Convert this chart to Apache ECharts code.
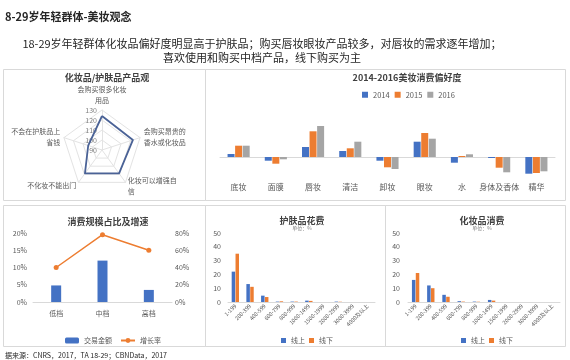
<!DOCTYPE html>
<html><head><meta charset="utf-8">
<script src="https://cdn.jsdelivr.net/npm/echarts@6/dist/echarts.min.js"></script>
<style>html,body{margin:0;padding:0;background:#fff}#c{width:570px;height:360px}</style>
</head><body><div id="c"></div>
<script>
// radar axes listed counter-clockwise from the top (ECharts order)
const radarNames = ['会购买很多化妆\n用品','不会在护肤品上\n省钱','不化妆不能出门','化妆可以增强自\n信','会购买昂贵的\n香水或化妆品'];
const radarValues = [124, 104.5, 119, 119, 122.5];
const prefYears = ['2014','2015','2016'];
const prefCategories = ['底妆','面膜','唇妆','清洁','卸妆','眼妆','水','身体及香体','精华'];
const pref2014 = [3, -3.7, 10, 6, -3.7, 15.3, -5.7, -1, -16.7];
const pref2015 = [11.3, -6.7, 25.7, 8.7, -10.3, 24, 1, -10.7, -16];
const pref2016 = [11.3, -2.3, 31, 15.3, -12, 18.3, 2.7, -15.3, -14.3];
const tierCategories = ['低档','中档','高档'];
const tierShare = [4.8, 12, 3.5];
const tierGrowth = [40, 78, 60];
const priceCategories = ['1-199','200-399','400-599','600-799','800-999','1000-1499','1500-1999','2000-2999','3000-3999','4000及以上'];
const skinOnline = [22, 13, 4.6, 0.3, 0.3, 1, 0, 0.3, 0, 0];
const skinOffline = [35, 11, 3.6, 0.5, 0.3, 0.8, 0, 0.2, 0, 0];
const makeupOnline = [16, 12, 5.2, 0.6, 0.3, 1.5, 0, 0, 0, 0];
const makeupOffline = [21, 10, 3.8, 0.3, 0.2, 1, 0, 0, 0, 0];

const FONT = '"Noto Sans CJK SC", "Noto Sans", sans-serif';
const GRAY = '#595959';
const BLUE = '#4472C4', ORANGE = '#ED7D31', LGRAY = '#A5A5A5';
const ch = echarts.init(document.getElementById('c'), null, {renderer:'canvas'});

const panelTitle = (text, x, y) => ({text, left:x, top:y, textAlign:'center',
  textStyle:{fontFamily:FONT, fontSize:9, fontWeight:'bold', color:'#404040'}});
const rect = (x,y,w,h) => ({type:'rect', shape:{x,y,width:w,height:h}, silent:true,
  style:{fill:'none', stroke:'#d9d9d9', lineWidth:1}, z:-1});
const catAxis = (gi, data, extra) => Object.assign({type:'category', gridIndex:gi, data,
  axisLine:{lineStyle:{color:'#d9d9d9'}}, axisTick:{show:false},
  axisLabel:{fontFamily:FONT, fontSize:7, color:GRAY, interval:0}}, extra||{});
const valAxis = (gi, min, max, interval, extra) => Object.assign({type:'value', gridIndex:gi, min, max, interval,
  axisLine:{show:false}, axisTick:{show:false}, splitLine:{show:false},
  axisLabel:{fontFamily:FONT, fontSize:7, color:GRAY}}, extra||{});

ch.setOption({
  backgroundColor:'#fff',
  textStyle:{fontFamily:FONT},
  animation:false,
  title:[
    {text:'8-29岁年轻群体-美妆观念', left:0, top:6, textStyle:{fontFamily:FONT, fontSize:11, fontWeight:'bold', color:'#262626'}},
    {text:'18-29岁年轻群体化妆品偏好度明显高于护肤品；购买唇妆眼妆产品较多，对唇妆的需求逐年增加；\n喜欢使用和购买中档产品，线下购买为主',
      left:257, top:32, textAlign:'center', textStyle:{fontFamily:FONT, fontSize:11, fontWeight:'normal', color:'#262626', lineHeight:14, align:'center'}},
    panelTitle('化妆品/护肤品产品观', 102, 68),
    panelTitle('2014-2016美妆消费偏好度', 402, 68),
    panelTitle('消费规模占比及增速', 103, 212),
    Object.assign(panelTitle('护肤品花费', 297, 211), {subtext:'单位：%', itemGap:1, subtextStyle:{fontFamily:FONT, fontSize:5, color:'#7f7f7f'}}),
    Object.assign(panelTitle('化妆品消费', 477, 211), {subtext:'单位：%', itemGap:1, subtextStyle:{fontFamily:FONT, fontSize:5, color:'#7f7f7f'}}),
    {text:'据来源：CNRS，2017，TA 18-29；CBNData，2017', left:0, top:347, textStyle:{fontFamily:FONT, fontSize:7, fontWeight:'normal', color:'#262626'}}
  ],
  graphic:[
    rect(3.5,69.5,202,131), rect(205.5,69.5,360,131),
    rect(3.5,205.5,202,141), rect(205.5,205.5,180,141), rect(385.5,205.5,180,141)
  ],
  legend:[
    {data:prefYears, left:357, top:86, itemWidth:6, itemHeight:6, itemGap:5, icon:'rect',
      textStyle:{fontFamily:FONT, fontSize:7.5, color:GRAY}},
    {data:['交易金额','增长率'], left:60, top:332, itemWidth:14, itemHeight:6, itemGap:8,
      textStyle:{fontFamily:FONT, fontSize:7, color:GRAY}},
    {data:['线上','线下'], left:276, top:332, itemWidth:5, itemHeight:5, itemGap:4, icon:'rect',
      textStyle:{fontFamily:FONT, fontSize:7, color:GRAY}},
    {data:['线上','线下'], left:456, top:332, itemWidth:5, itemHeight:5, itemGap:4, icon:'rect',
      textStyle:{fontFamily:FONT, fontSize:7, color:GRAY}}
  ],
  radar:{
    center:[102,150], radius:40, startAngle:90, shape:'polygon', splitNumber:4,
    indicator: radarNames.map(n => ({name:n, min:90, max:130})),
    axisName:{color:GRAY, fontSize:7, fontFamily:FONT, lineHeight:11},
    nameGap:4,
    splitLine:{lineStyle:{color:'#e3e3e3'}},
    splitArea:{show:false},
    axisLine:{lineStyle:{color:'#e3e3e3'}}
  },
  grid:[
    {left:220, width:335, top:117, height:60, outerBoundsMode:'none'},
    {left:33, width:139, top:233, height:69, outerBoundsMode:'none'},
    {left:228, width:147, top:233, height:69, outerBoundsMode:'none'},
    {left:408, width:152, top:233, height:69, outerBoundsMode:'none'},
    {left:102, width:1, top:110, height:40, outerBoundsMode:'none'}
  ],
  xAxis:[
    catAxis(0, prefCategories, {axisLine:{onZero:true, lineStyle:{color:'#d9d9d9'}}, axisLabel:{fontFamily:FONT, fontSize:8, color:GRAY, interval:0, margin:6}}),
    catAxis(1, tierCategories, {axisLabel:{fontFamily:FONT, fontSize:7, color:GRAY, interval:0, margin:8}}),
    catAxis(2, priceCategories, {axisLabel:{fontFamily:FONT, fontSize:5.5, color:GRAY, interval:0, rotate:45, margin:3}}),
    catAxis(3, priceCategories, {axisLabel:{fontFamily:FONT, fontSize:5.5, color:GRAY, interval:0, rotate:45, margin:3}}),
    {type:'value', gridIndex:4, show:false, min:0, max:1}
  ],
  yAxis:[
    {type:'value', gridIndex:0, min:-20, max:40, show:false},
    valAxis(1, 0, 20, 5, {axisLabel:{fontFamily:FONT, fontSize:7, color:GRAY, formatter:'{value}%', margin:6}}),
    valAxis(1, 0, 80, 20, {position:'right', axisLabel:{fontFamily:FONT, fontSize:7, color:GRAY, formatter:'{value}%', margin:3}}),
    valAxis(2, 0, 50, 10, {axisLabel:{fontFamily:FONT, fontSize:7, color:GRAY, margin:7}}),
    valAxis(3, 0, 50, 10, {axisLabel:{fontFamily:FONT, fontSize:7, color:GRAY, margin:8}}),
    valAxis(4, 90, 130, 10, {axisLabel:{fontFamily:FONT, fontSize:7, color:'#7f7f7f', margin:5}})
  ],
  series:[
    {type:'radar', data:[{value:radarValues}], symbol:'none', lineStyle:{color:'#4a6296', width:1.8}, itemStyle:{color:'#4a6296'}, silent:true},
    {name:'2014', type:'bar', xAxisIndex:0, yAxisIndex:0, data:pref2014, barWidth:7, barGap:'8%', itemStyle:{color:BLUE}},
    {name:'2015', type:'bar', xAxisIndex:0, yAxisIndex:0, data:pref2015, barWidth:7, barGap:'8%', itemStyle:{color:ORANGE}},
    {name:'2016', type:'bar', xAxisIndex:0, yAxisIndex:0, data:pref2016, barWidth:7, barGap:'8%', itemStyle:{color:LGRAY}},
    {name:'交易金额', type:'bar', xAxisIndex:1, yAxisIndex:1, data:tierShare, barWidth:10, itemStyle:{color:BLUE}},
    {name:'增长率', type:'line', xAxisIndex:1, yAxisIndex:2, data:tierGrowth, symbol:'circle', symbolSize:5,
      lineStyle:{color:ORANGE, width:1.5}, itemStyle:{color:ORANGE}},
    {name:'线上', type:'bar', xAxisIndex:2, yAxisIndex:3, data:skinOnline, barWidth:3.5, barGap:'10%', itemStyle:{color:BLUE}},
    {name:'线下', type:'bar', xAxisIndex:2, yAxisIndex:3, data:skinOffline, barWidth:3.5, barGap:'10%', itemStyle:{color:ORANGE}},
    {name:'线上', type:'bar', xAxisIndex:3, yAxisIndex:4, data:makeupOnline, barWidth:3.5, barGap:'10%', itemStyle:{color:BLUE}},
    {name:'线下', type:'bar', xAxisIndex:3, yAxisIndex:4, data:makeupOffline, barWidth:3.5, barGap:'10%', itemStyle:{color:ORANGE}}
  ]
});
</script></body></html>
